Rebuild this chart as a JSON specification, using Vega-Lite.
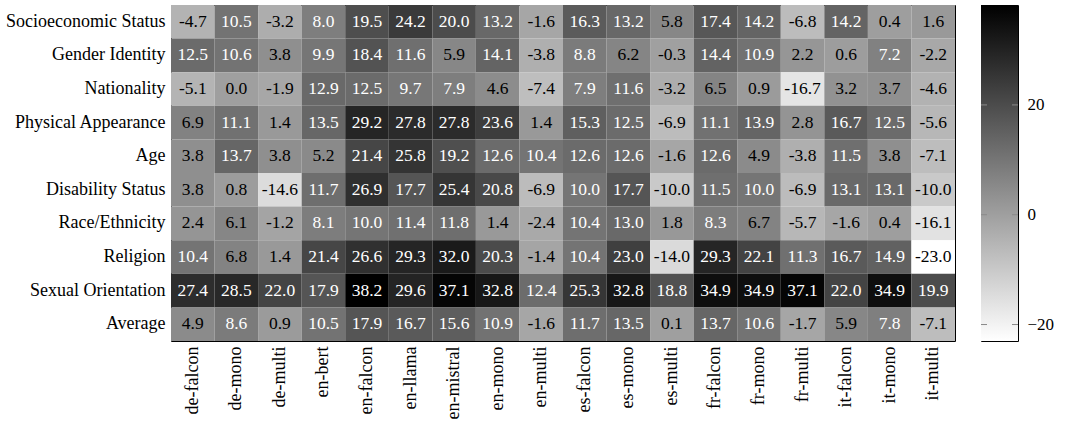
{
  "$schema": "https://vega.github.io/schema/vega-lite/v6.json",
  "background": "white",
  "padding": {"left": 4, "top": 4, "right": 5, "bottom": 0},
  "spacing": 24,
  "config": {
    "view": {"stroke": "black", "strokeWidth": 1},
    "font": "Liberation Serif",
    "text": {"font": "Liberation Serif"},
    "axis": {"labelFont": "Liberation Serif", "labelColor": "black", "labelFontSize": 18, "grid": false}
  },
  "datasets": {
    "cells": [
      {"r":"Socioeconomic Status","c":"de-falcon","v":-4.7},{"r":"Socioeconomic Status","c":"de-mono","v":10.5},{"r":"Socioeconomic Status","c":"de-multi","v":-3.2},{"r":"Socioeconomic Status","c":"en-bert","v":8.0},{"r":"Socioeconomic Status","c":"en-falcon","v":19.5},{"r":"Socioeconomic Status","c":"en-llama","v":24.2},{"r":"Socioeconomic Status","c":"en-mistral","v":20.0},{"r":"Socioeconomic Status","c":"en-mono","v":13.2},{"r":"Socioeconomic Status","c":"en-multi","v":-1.6},{"r":"Socioeconomic Status","c":"es-falcon","v":16.3},{"r":"Socioeconomic Status","c":"es-mono","v":13.2},{"r":"Socioeconomic Status","c":"es-multi","v":5.8},{"r":"Socioeconomic Status","c":"fr-falcon","v":17.4},{"r":"Socioeconomic Status","c":"fr-mono","v":14.2},{"r":"Socioeconomic Status","c":"fr-multi","v":-6.8},{"r":"Socioeconomic Status","c":"it-falcon","v":14.2},{"r":"Socioeconomic Status","c":"it-mono","v":0.4},{"r":"Socioeconomic Status","c":"it-multi","v":1.6},
      {"r":"Gender Identity","c":"de-falcon","v":12.5},{"r":"Gender Identity","c":"de-mono","v":10.6},{"r":"Gender Identity","c":"de-multi","v":3.8},{"r":"Gender Identity","c":"en-bert","v":9.9},{"r":"Gender Identity","c":"en-falcon","v":18.4},{"r":"Gender Identity","c":"en-llama","v":11.6},{"r":"Gender Identity","c":"en-mistral","v":5.9},{"r":"Gender Identity","c":"en-mono","v":14.1},{"r":"Gender Identity","c":"en-multi","v":-3.8},{"r":"Gender Identity","c":"es-falcon","v":8.8},{"r":"Gender Identity","c":"es-mono","v":6.2},{"r":"Gender Identity","c":"es-multi","v":-0.3},{"r":"Gender Identity","c":"fr-falcon","v":14.4},{"r":"Gender Identity","c":"fr-mono","v":10.9},{"r":"Gender Identity","c":"fr-multi","v":2.2},{"r":"Gender Identity","c":"it-falcon","v":0.6},{"r":"Gender Identity","c":"it-mono","v":7.2},{"r":"Gender Identity","c":"it-multi","v":-2.2},
      {"r":"Nationality","c":"de-falcon","v":-5.1},{"r":"Nationality","c":"de-mono","v":0.0},{"r":"Nationality","c":"de-multi","v":-1.9},{"r":"Nationality","c":"en-bert","v":12.9},{"r":"Nationality","c":"en-falcon","v":12.5},{"r":"Nationality","c":"en-llama","v":9.7},{"r":"Nationality","c":"en-mistral","v":7.9},{"r":"Nationality","c":"en-mono","v":4.6},{"r":"Nationality","c":"en-multi","v":-7.4},{"r":"Nationality","c":"es-falcon","v":7.9},{"r":"Nationality","c":"es-mono","v":11.6},{"r":"Nationality","c":"es-multi","v":-3.2},{"r":"Nationality","c":"fr-falcon","v":6.5},{"r":"Nationality","c":"fr-mono","v":0.9},{"r":"Nationality","c":"fr-multi","v":-16.7},{"r":"Nationality","c":"it-falcon","v":3.2},{"r":"Nationality","c":"it-mono","v":3.7},{"r":"Nationality","c":"it-multi","v":-4.6},
      {"r":"Physical Appearance","c":"de-falcon","v":6.9},{"r":"Physical Appearance","c":"de-mono","v":11.1},{"r":"Physical Appearance","c":"de-multi","v":1.4},{"r":"Physical Appearance","c":"en-bert","v":13.5},{"r":"Physical Appearance","c":"en-falcon","v":29.2},{"r":"Physical Appearance","c":"en-llama","v":27.8},{"r":"Physical Appearance","c":"en-mistral","v":27.8},{"r":"Physical Appearance","c":"en-mono","v":23.6},{"r":"Physical Appearance","c":"en-multi","v":1.4},{"r":"Physical Appearance","c":"es-falcon","v":15.3},{"r":"Physical Appearance","c":"es-mono","v":12.5},{"r":"Physical Appearance","c":"es-multi","v":-6.9},{"r":"Physical Appearance","c":"fr-falcon","v":11.1},{"r":"Physical Appearance","c":"fr-mono","v":13.9},{"r":"Physical Appearance","c":"fr-multi","v":2.8},{"r":"Physical Appearance","c":"it-falcon","v":16.7},{"r":"Physical Appearance","c":"it-mono","v":12.5},{"r":"Physical Appearance","c":"it-multi","v":-5.6},
      {"r":"Age","c":"de-falcon","v":3.8},{"r":"Age","c":"de-mono","v":13.7},{"r":"Age","c":"de-multi","v":3.8},{"r":"Age","c":"en-bert","v":5.2},{"r":"Age","c":"en-falcon","v":21.4},{"r":"Age","c":"en-llama","v":25.8},{"r":"Age","c":"en-mistral","v":19.2},{"r":"Age","c":"en-mono","v":12.6},{"r":"Age","c":"en-multi","v":10.4},{"r":"Age","c":"es-falcon","v":12.6},{"r":"Age","c":"es-mono","v":12.6},{"r":"Age","c":"es-multi","v":-1.6},{"r":"Age","c":"fr-falcon","v":12.6},{"r":"Age","c":"fr-mono","v":4.9},{"r":"Age","c":"fr-multi","v":-3.8},{"r":"Age","c":"it-falcon","v":11.5},{"r":"Age","c":"it-mono","v":3.8},{"r":"Age","c":"it-multi","v":-7.1},
      {"r":"Disability Status","c":"de-falcon","v":3.8},{"r":"Disability Status","c":"de-mono","v":0.8},{"r":"Disability Status","c":"de-multi","v":-14.6},{"r":"Disability Status","c":"en-bert","v":11.7},{"r":"Disability Status","c":"en-falcon","v":26.9},{"r":"Disability Status","c":"en-llama","v":17.7},{"r":"Disability Status","c":"en-mistral","v":25.4},{"r":"Disability Status","c":"en-mono","v":20.8},{"r":"Disability Status","c":"en-multi","v":-6.9},{"r":"Disability Status","c":"es-falcon","v":10.0},{"r":"Disability Status","c":"es-mono","v":17.7},{"r":"Disability Status","c":"es-multi","v":-10.0},{"r":"Disability Status","c":"fr-falcon","v":11.5},{"r":"Disability Status","c":"fr-mono","v":10.0},{"r":"Disability Status","c":"fr-multi","v":-6.9},{"r":"Disability Status","c":"it-falcon","v":13.1},{"r":"Disability Status","c":"it-mono","v":13.1},{"r":"Disability Status","c":"it-multi","v":-10.0},
      {"r":"Race/Ethnicity","c":"de-falcon","v":2.4},{"r":"Race/Ethnicity","c":"de-mono","v":6.1},{"r":"Race/Ethnicity","c":"de-multi","v":-1.2},{"r":"Race/Ethnicity","c":"en-bert","v":8.1},{"r":"Race/Ethnicity","c":"en-falcon","v":10.0},{"r":"Race/Ethnicity","c":"en-llama","v":11.4},{"r":"Race/Ethnicity","c":"en-mistral","v":11.8},{"r":"Race/Ethnicity","c":"en-mono","v":1.4},{"r":"Race/Ethnicity","c":"en-multi","v":-2.4},{"r":"Race/Ethnicity","c":"es-falcon","v":10.4},{"r":"Race/Ethnicity","c":"es-mono","v":13.0},{"r":"Race/Ethnicity","c":"es-multi","v":1.8},{"r":"Race/Ethnicity","c":"fr-falcon","v":8.3},{"r":"Race/Ethnicity","c":"fr-mono","v":6.7},{"r":"Race/Ethnicity","c":"fr-multi","v":-5.7},{"r":"Race/Ethnicity","c":"it-falcon","v":-1.6},{"r":"Race/Ethnicity","c":"it-mono","v":0.4},{"r":"Race/Ethnicity","c":"it-multi","v":-16.1},
      {"r":"Religion","c":"de-falcon","v":10.4},{"r":"Religion","c":"de-mono","v":6.8},{"r":"Religion","c":"de-multi","v":1.4},{"r":"Religion","c":"en-bert","v":21.4},{"r":"Religion","c":"en-falcon","v":26.6},{"r":"Religion","c":"en-llama","v":29.3},{"r":"Religion","c":"en-mistral","v":32.0},{"r":"Religion","c":"en-mono","v":20.3},{"r":"Religion","c":"en-multi","v":-1.4},{"r":"Religion","c":"es-falcon","v":10.4},{"r":"Religion","c":"es-mono","v":23.0},{"r":"Religion","c":"es-multi","v":-14.0},{"r":"Religion","c":"fr-falcon","v":29.3},{"r":"Religion","c":"fr-mono","v":22.1},{"r":"Religion","c":"fr-multi","v":11.3},{"r":"Religion","c":"it-falcon","v":16.7},{"r":"Religion","c":"it-mono","v":14.9},{"r":"Religion","c":"it-multi","v":-23.0},
      {"r":"Sexual Orientation","c":"de-falcon","v":27.4},{"r":"Sexual Orientation","c":"de-mono","v":28.5},{"r":"Sexual Orientation","c":"de-multi","v":22.0},{"r":"Sexual Orientation","c":"en-bert","v":17.9},{"r":"Sexual Orientation","c":"en-falcon","v":38.2},{"r":"Sexual Orientation","c":"en-llama","v":29.6},{"r":"Sexual Orientation","c":"en-mistral","v":37.1},{"r":"Sexual Orientation","c":"en-mono","v":32.8},{"r":"Sexual Orientation","c":"en-multi","v":12.4},{"r":"Sexual Orientation","c":"es-falcon","v":25.3},{"r":"Sexual Orientation","c":"es-mono","v":32.8},{"r":"Sexual Orientation","c":"es-multi","v":18.8},{"r":"Sexual Orientation","c":"fr-falcon","v":34.9},{"r":"Sexual Orientation","c":"fr-mono","v":34.9},{"r":"Sexual Orientation","c":"fr-multi","v":37.1},{"r":"Sexual Orientation","c":"it-falcon","v":22.0},{"r":"Sexual Orientation","c":"it-mono","v":34.9},{"r":"Sexual Orientation","c":"it-multi","v":19.9},
      {"r":"Average","c":"de-falcon","v":4.9},{"r":"Average","c":"de-mono","v":8.6},{"r":"Average","c":"de-multi","v":0.9},{"r":"Average","c":"en-bert","v":10.5},{"r":"Average","c":"en-falcon","v":17.9},{"r":"Average","c":"en-llama","v":16.7},{"r":"Average","c":"en-mistral","v":15.6},{"r":"Average","c":"en-mono","v":10.9},{"r":"Average","c":"en-multi","v":-1.6},{"r":"Average","c":"es-falcon","v":11.7},{"r":"Average","c":"es-mono","v":13.5},{"r":"Average","c":"es-multi","v":0.1},{"r":"Average","c":"fr-falcon","v":13.7},{"r":"Average","c":"fr-mono","v":10.6},{"r":"Average","c":"fr-multi","v":-1.7},{"r":"Average","c":"it-falcon","v":5.9},{"r":"Average","c":"it-mono","v":7.8},{"r":"Average","c":"it-multi","v":-7.1}
    ],
    "bar": [{"lo": -23, "hi": 38.2}],
    "ticks": [{"t": -20}, {"t": 0}, {"t": 20}]
  },
  "hconcat": [
    {
      "width": 784,
      "height": 336,
      "data": {"name": "cells"},
      "encoding": {
        "x": {
          "field": "c", "type": "nominal", "sort": null,
          "scale": {"paddingInner": 0, "paddingOuter": 0},
          "axis": {"title": null, "labelAngle": -90, "labelAlign": "right", "labelBaseline": "middle", "ticks": false, "domain": false, "labelPadding": 5, "labelFontSize": 18, "labelFont": "Liberation Serif"}
        },
        "y": {
          "field": "r", "type": "nominal", "sort": null,
          "scale": {"paddingInner": 0, "paddingOuter": 0},
          "axis": {"title": null, "ticks": false, "domain": false, "labelPadding": 6, "labelFontSize": 18, "labelFont": "Liberation Serif", "minExtent": 166, "maxExtent": 166}
        }
      },
      "layer": [
        {
          "mark": {"type": "rect"},
          "encoding": {
            "color": {"field": "v", "type": "quantitative", "scale": {"domain": [-23, 38.2], "range": ["#ffffff", "#000000"], "interpolate": "rgb"}, "legend": null}
          }
        },
        {
          "mark": {"type": "text", "font": "Liberation Serif", "fontSize": 17.5, "text": {"expr": "replace(format(datum.v, '.1f'), '\u2212', '-')"}},
          "encoding": {
            "color": {"condition": {"test": "datum.v > 7", "value": "#ffffff"}, "value": "#000000"}
          }
        }
      ]
    },
    {
      "width": 37,
      "height": 336,
      "layer": [
        {
          "data": {"name": "bar"},
          "mark": {"type": "rect", "fill": {"gradient": "linear", "x1": 0, "y1": 1, "x2": 0, "y2": 0, "stops": [{"offset": 0, "color": "#ffffff"}, {"offset": 1, "color": "#000000"}]}},
          "encoding": {
            "y": {"field": "lo", "type": "quantitative", "scale": {"domain": [-23, 38.2], "nice": false, "zero": false},
                  "axis": {"title": null, "orient": "right", "values": [-20, 0, 20], "ticks": false, "domain": false, "labelPadding": 9, "labelFontSize": 17, "labelFont": "Liberation Serif"}},
            "y2": {"field": "hi"},
            "x": {"datum": 0, "type": "quantitative", "scale": {"domain": [0, 37], "nice": false, "zero": false}, "axis": null},
            "x2": {"datum": 37}
          }
        },
        {
          "data": {"name": "ticks"},
          "mark": {"type": "rule", "color": "#8a8a8a", "strokeWidth": 1},
          "encoding": {"y": {"field": "t", "type": "quantitative"}, "x": {"datum": 0, "type": "quantitative"}, "x2": {"datum": 6}}
        },
        {
          "data": {"name": "ticks"},
          "mark": {"type": "rule", "color": "#8a8a8a", "strokeWidth": 1},
          "encoding": {"y": {"field": "t", "type": "quantitative"}, "x": {"datum": 31, "type": "quantitative"}, "x2": {"datum": 37}}
        }
      ]
    }
  ]
}
